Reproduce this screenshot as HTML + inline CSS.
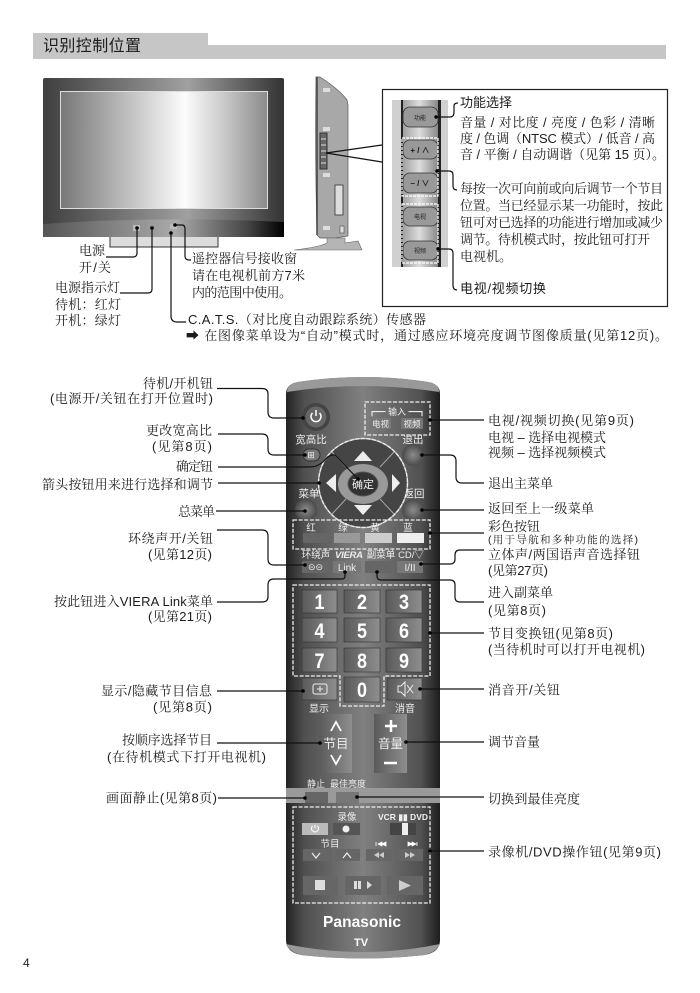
<!DOCTYPE html>
<html><head><meta charset="utf-8"><style>
html,body{margin:0;padding:0;background:#fff}
svg{display:block}
text{font-family:"Liberation Sans","Noto Serif CJK SC",serif;font-size:13px;fill:#1c1c1c}
.s{font-family:"Liberation Sans","Noto Sans CJK SC",sans-serif}
.w{font-family:"Liberation Sans","Noto Sans CJK SC",sans-serif;fill:#eee;font-size:10px;text-anchor:middle}
.d{font-family:"Liberation Sans","Noto Sans CJK SC",sans-serif;fill:#222;font-size:6px;text-anchor:middle}
.n{font-family:"Liberation Sans",sans-serif;fill:#fff;font-size:21px;font-weight:bold}
.l{fill:none;stroke:#111;stroke-width:1.2}
.dash{fill:none;stroke:#eee;stroke-width:1.3;stroke-dasharray:4 1.6}
</style></head><body>
<svg width="700" height="993" viewBox="0 0 700 993" xmlns="http://www.w3.org/2000/svg">
<defs>
<linearGradient id="bz" x1="0" x2="1" y1="0" y2="0"><stop offset="0" stop-color="#3f3f3f"/><stop offset=".6" stop-color="#a0a0a0"/><stop offset="1" stop-color="#333"/></linearGradient>
<linearGradient id="bb" x1="0" x2="1" y1="0" y2="0"><stop offset="0" stop-color="#555"/><stop offset=".55" stop-color="#aaa"/><stop offset=".85" stop-color="#444"/><stop offset="1" stop-color="#000"/></linearGradient>
<linearGradient id="sc" x1="0" x2="1" y1="0" y2="0"><stop offset="0" stop-color="#777"/><stop offset=".6" stop-color="#fcfcfc"/><stop offset=".78" stop-color="#ccc"/><stop offset="1" stop-color="#8a8a8a"/></linearGradient>
<linearGradient id="rm" x1="0" x2="1" y1="0" y2="0"><stop offset="0" stop-color="#222"/><stop offset=".12" stop-color="#505050"/><stop offset=".5" stop-color="#808080"/><stop offset=".88" stop-color="#505050"/><stop offset="1" stop-color="#1c1c1c"/></linearGradient>
<linearGradient id="bt" x1="0" x2="1" y1="0" y2="0"><stop offset="0" stop-color="#5a5a5a"/><stop offset="1" stop-color="#8e8e8e"/></linearGradient>
<linearGradient id="pn" x1="0" x2="1" y1="0" y2="0"><stop offset="0" stop-color="#999"/><stop offset=".5" stop-color="#ddd"/><stop offset="1" stop-color="#888"/></linearGradient>
<radialGradient id="rb"><stop offset="0" stop-color="#8c8c8c"/><stop offset="1" stop-color="#4a4a4a"/></radialGradient>
</defs>

<!-- header -->
<rect x="33" y="33" width="175" height="26" fill="#c6c6c6"/>
<rect x="208" y="45" width="458" height="14" fill="#c6c6c6"/>
<text class="s" x="43" y="51" style="font-size:16px" textLength="98">识别控制位置</text>

<!-- TV front -->
<rect x="110" y="232" width="108" height="15" fill="#ddd" stroke="#333" stroke-width="1"/>
<rect x="43" y="78" width="241" height="159" rx="2" fill="url(#bz)"/>
<path d="M43 224Q160 216 284 222V237H43Z" fill="url(#bb)"/>
<rect x="60.500" y="91.500" width="207" height="117" fill="url(#sc)" stroke="#ddd"/>
<rect x="133" y="225" width="7" height="6" fill="#bbb"/>
<rect x="170" y="224" width="7" height="5" fill="#bbb"/>
<rect x="169" y="231" width="4" height="4" fill="#aaa"/>
<path class="l" d="M137 228V253Q137 257 133 257H106M152 228V289Q152 293 148 293H120M171 233V316Q171 322 177 322H186M175 225H182Q185 225 185 229V256Q185 260 189 260H191"/>
<circle cx="137" cy="228" r="1.800" fill="#000"/><circle cx="152" cy="228" r="1.800" fill="#000"/><circle cx="171" cy="233" r="1.800" fill="#000"/><circle cx="175" cy="225" r="1.800" fill="#000"/>

<text x="79" y="255" textLength="26">电源</text>
<text x="79" y="272" textLength="32">开/关</text>
<text x="55" y="292" textLength="65">电源指示灯</text>
<text x="55" y="309" textLength="66">待机：红灯</text>
<text x="55" y="325" textLength="66">开机：绿灯</text>
<text x="192" y="263" textLength="105">遥控器信号接收窗</text>
<text x="192" y="280" textLength="113">请在电视机前方7米</text>
<text x="192" y="297" textLength="100">内的范围中使用。</text>
<text x="188" y="324" textLength="238">C.A.T.S.（对比度自动跟踪系统）传感器</text>
<text x="186" y="340" textLength="482">➡ 在图像菜单设为“自动”模式时，通过感应环境亮度调节图像质量(见第12页)。</text>

<!-- TV side -->
<path d="M316 77L320 77Q340 90 347 100L348 105V236L335 238H320L317 235Q315 160 316 77Z" fill="#a8a8a8" stroke="#555" stroke-width=".7"/>
<path d="M317 77V235" stroke="#444" stroke-width="1.500"/>
<rect x="320" y="133" width="7" height="36" fill="#666" stroke="#333"/>
<path d="M321 139h5M321 145h5M321 151h5M321 157h5M321 163h5" stroke="#ddd"/>
<rect x="323" y="88" width="7" height="4" fill="#ddd"/><rect x="323" y="127" width="7" height="4" fill="#ddd"/><rect x="323" y="173" width="7" height="4" fill="#ddd"/><rect x="323" y="226" width="7" height="4" fill="#ddd"/>
<rect x="335" y="185" width="8" height="30" fill="#ddd" stroke="#333" stroke-width=".8"/>
<rect x="340" y="226" width="4" height="7" fill="#ddd" stroke="#333" stroke-width=".5"/>
<path d="M327 238H345V243L358 241L362 250H294Q320 247 327 243Z" fill="#b5b5b5" stroke="#666" stroke-width=".6"/>
<path class="l" d="M326 153L382 145M326 153L382 162"/>

<!-- callout box -->
<rect x="382.500" y="89.500" width="285" height="217" fill="#fff" stroke="#222" stroke-width="1.200"/>
<rect x="392" y="100" width="56" height="167" fill="#d0d0d0"/>
<rect x="401" y="100" width="37" height="167" fill="url(#pn)"/>
<rect x="401" y="100" width="2" height="167" fill="#222"/><rect x="438" y="100" width="3" height="167" fill="#222"/>
<g fill="#999" stroke="#333" stroke-width=".8">
<rect x="403" y="107" width="35" height="20" rx="7"/>
<rect x="403" y="140" width="35" height="19" rx="7"/>
<rect x="403" y="173" width="35" height="20" rx="7"/>
<rect x="403" y="207" width="35" height="19" rx="7"/>
<rect x="403" y="241" width="35" height="19" rx="7"/>
</g>
<text class="d" x="420" y="120">功能</text>
<text class="s" x="420" y="153" text-anchor="middle" style="font-size:8px;font-weight:bold">+ / ∧</text>
<text class="s" x="420" y="186" text-anchor="middle" style="font-size:8px;font-weight:bold">– / ∨</text>
<text class="d" x="420" y="219">电视</text>
<text class="d" x="420" y="253">视频</text>
<path d="M402 138H438V196H402ZM402 204H438V263H402Z" fill="none" stroke="#fff" stroke-width="1.200" stroke-dasharray="3 1"/>
<path class="l" d="M436 117H450Q454 117 454 112V106Q454 103 458 103M437 171H449Q453 171 453 175V186Q453 190 457 190M438 249H449Q453 249 453 253V285Q453 290 457 290"/>
<circle cx="436" cy="117" r="1.700" fill="#000"/><circle cx="437" cy="171" r="1.700" fill="#000"/><circle cx="438" cy="249" r="1.700" fill="#000"/>
<text class="s" x="460" y="107" textLength="52" style="font-size:13px">功能选择</text>
<text x="460" y="127" textLength="195">音量 / 对比度 / 亮度 / 色彩 / 清晰</text>
<text x="460" y="143" textLength="195">度 / 色调（NTSC 模式）/ 低音 / 高</text>
<text x="460" y="159" textLength="205">音 / 平衡 / 自动调谐（见第 15 页）。</text>
<text x="460" y="193" textLength="203">每按一次可向前或向后调节一个节目</text>
<text x="460" y="210" textLength="203">位置。当已经显示某一功能时，按此</text>
<text x="460" y="227" textLength="203">钮可对已选择的功能进行增加或减少</text>
<text x="460" y="244" textLength="190">调节。待机模式时，按此钮可打开</text>
<text x="460" y="261">电视机。</text>
<text class="s" x="460" y="293" textLength="86" style="font-size:13px">电视/视频切换</text>

<!-- Remote body -->
<path d="M286 394Q286 384 298 382Q363 372 428 382Q440 384 440 394V940Q440 952 425 955Q363 962 301 955Q286 952 286 940Z" fill="url(#rm)"/>
<path d="M287 392Q287 384 298 382Q363 372 428 382Q439 384 439 392Q363 380 287 392Z" fill="#999"/>
<path d="M286 944Q363 960 440 944Q436 952 425 955Q363 962 301 955Q290 952 286 944Z" fill="#999"/>
<rect x="286" y="788" width="154" height="15" fill="#9a9a9a"/>

<!-- power -->
<circle cx="316" cy="417" r="14" fill="#444"/><circle cx="316" cy="417" r="10.500" fill="#666"/>
<path d="M312.500 413a5 5 0 1 0 7 0M316 410v6" fill="none" stroke="#fff" stroke-width="1.500"/>
<!-- input -->
<rect x="365" y="402" width="65" height="33" class="dash"/>
<text class="w" x="397" y="415" style="font-size:9px">┏━ 输入 ━┓</text>
<rect x="370" y="418" width="21" height="11" rx="1" fill="#777"/><text class="w" x="380.500" y="427" style="font-size:8.500px">电视</text>
<rect x="401" y="418" width="22" height="11" rx="1" fill="#777"/><text class="w" x="412" y="427" style="font-size:8.500px">视频</text>
<!-- upper labels -->
<text class="w" x="311" y="443" style="font-size:10.500px">宽高比</text>
<text class="w" x="413" y="443" style="font-size:10.500px">退出</text>
<text class="w" x="309" y="497" style="font-size:10.500px">菜单</text>
<text class="w" x="414" y="497" style="font-size:10.500px">返回</text>
<rect x="303" y="449" width="17" height="12" rx="6" fill="#777" stroke="#333"/>
<text class="w" x="311" y="458" style="font-size:9px">⊞</text>
<circle cx="413" cy="455" r="11" fill="url(#rb)"/>
<circle cx="306" cy="510" r="11" fill="url(#rb)"/>
<circle cx="413" cy="510" r="11" fill="url(#rb)"/>
<!-- dpad -->
<circle cx="363" cy="483" r="44.500" fill="#454545" stroke="#bbb" stroke-width="1.400"/>
<circle cx="363" cy="483" r="44.500" class="dash" stroke-width=".9"/>
<path d="M332 452L346 467M394 452L380 467M332 514L346 499M394 514L380 499" stroke="#aaa" stroke-width="1"/>
<ellipse cx="363" cy="484" rx="25" ry="20" fill="#999"/>
<ellipse cx="363" cy="484" rx="15" ry="12" fill="#333" stroke="#555"/>
<text class="w" x="363" y="488" style="font-size:11px">确定</text>
<path d="M363 451L372 461H354ZM363 515L372 505H354ZM326 483L336 474V492ZM400 483L392 474V492Z" fill="#eee"/>
<!-- colors -->
<rect x="293" y="520" width="137" height="29" class="dash"/>
<text class="w" x="311" y="531" style="font-size:9.500px">红</text><text class="w" x="343" y="531" style="font-size:9.500px">绿</text><text class="w" x="375" y="531" style="font-size:9.500px">黄</text><text class="w" x="408" y="531" style="font-size:9.500px">蓝</text>
<rect x="303" y="533" width="25" height="10" fill="#666"/><rect x="334" y="533" width="26" height="10" fill="#999"/><rect x="365" y="533" width="27" height="10" fill="#ccc"/><rect x="397" y="533" width="27" height="10" fill="#eee"/>
<!-- row -->
<text class="w" x="316" y="558" style="font-size:9.500px">环绕声</text>
<text class="w" x="349" y="558" style="font-size:9.500px;font-weight:bold;font-style:italic" textLength="28">VIERA</text>
<text class="w" x="381" y="558" style="font-size:9.500px">副菜单</text>
<text class="w" x="411" y="558" style="font-size:9.500px">CD/▽</text>
<rect x="302" y="561" width="27" height="12" rx="1" fill="#666"/><text class="w" x="315.500" y="570" style="font-size:9px">⊝⊝</text>
<rect x="333" y="561" width="28" height="12" rx="1" fill="#777"/><text class="w" x="347" y="571" style="font-size:10px">Link</text>
<rect x="365" y="561" width="27" height="12" rx="1" fill="#666"/>
<rect x="397" y="561" width="26" height="12" rx="1" fill="#777"/><text class="w" x="410" y="571" style="font-size:10px">I/II</text>

<!-- numpad -->
<g fill="url(#bt)" stroke="#333" stroke-width=".6">
<rect x="302" y="590" width="35" height="23"/><rect x="344" y="590" width="36" height="23"/><rect x="386" y="590" width="36" height="23"/>
<rect x="302" y="618" width="35" height="24"/><rect x="344" y="618" width="36" height="24"/><rect x="386" y="618" width="36" height="24"/>
<rect x="302" y="648" width="35" height="24"/><rect x="344" y="648" width="36" height="24"/><rect x="386" y="648" width="36" height="24"/>
<rect x="344" y="677" width="36" height="25"/>
<rect x="302" y="678" width="35" height="22"/><rect x="387" y="678" width="35" height="22"/>
</g>
<text class="n" x="314.500" y="609" textLength="10" lengthAdjust="spacingAndGlyphs">1</text><text class="n" x="357" y="609" textLength="10" lengthAdjust="spacingAndGlyphs">2</text><text class="n" x="399" y="609" textLength="10" lengthAdjust="spacingAndGlyphs">3</text>
<text class="n" x="314.500" y="638" textLength="10" lengthAdjust="spacingAndGlyphs">4</text><text class="n" x="357" y="638" textLength="10" lengthAdjust="spacingAndGlyphs">5</text><text class="n" x="399" y="638" textLength="10" lengthAdjust="spacingAndGlyphs">6</text>
<text class="n" x="314.500" y="668" textLength="10" lengthAdjust="spacingAndGlyphs">7</text><text class="n" x="357" y="668" textLength="10" lengthAdjust="spacingAndGlyphs">8</text><text class="n" x="399" y="668" textLength="10" lengthAdjust="spacingAndGlyphs">9</text>
<text class="n" x="357" y="697" textLength="10" lengthAdjust="spacingAndGlyphs">0</text>
<path class="dash" d="M293 585H430V676H384V706H340V676H293Z"/>
<rect x="313" y="684" width="14" height="10" rx="2" fill="none" stroke="#eee"/><path d="M320 686v6M317 689h6" stroke="#eee"/>
<path d="M398 686h3l4-4v14l-4-4h-3zM407 685l6 8M413 685l-6 8" fill="none" stroke="#eee"/>
<text class="w" x="319" y="712" style="font-size:10px">显示</text><text class="w" x="405" y="712" style="font-size:10px">消音</text>
<!-- rockers -->
<rect x="319" y="714" width="33" height="59" fill="url(#bt)"/><rect x="374" y="714" width="33" height="59" fill="url(#bt)"/>
<path d="M331 731L336 722L341 731M331 755L336 764L341 755" fill="none" stroke="#fff" stroke-width="1.800"/>
<text class="w" x="336" y="748" style="font-size:12.500px">节目</text>
<path d="M385 726H397M391 720V732" stroke="#fff" stroke-width="2.500"/>
<text class="w" x="390.500" y="748" style="font-size:12.500px">音量</text>
<path d="M384 763H397" stroke="#fff" stroke-width="2.500"/>
<!-- still -->
<text class="w" x="316" y="787" style="font-size:9px">静止</text><text class="w" x="348" y="787" style="font-size:9px">最佳亮度</text>
<rect x="305" y="792" width="23" height="11" fill="#666"/><rect x="336" y="792" width="23" height="11" fill="#777"/>
<!-- VCR -->
<rect x="293" y="807" width="137" height="96" class="dash"/>
<text class="w" x="347" y="820" style="font-size:9.500px">录像</text>
<text class="w" x="403" y="820" style="font-size:8.500px;font-weight:bold" textLength="50">VCR ▮▮ DVD</text>
<rect x="302" y="823" width="26" height="12" fill="#bbb"/><path d="M312.500 826a3.500 3.500 0 1 0 5 0M315 825v3" fill="none" stroke="#fff"/>
<rect x="333" y="823" width="27" height="12" fill="#555"/><circle cx="346" cy="829" r="3.500" fill="#eee"/>
<rect x="390" y="823" width="26" height="12" fill="#444"/><rect x="402" y="823" width="6" height="12" fill="#eee"/>
<text class="w" x="330" y="847" style="font-size:9.500px">节目</text>
<path d="M376 842v4M378 844l4-2v4zM382 844l4-2v4zM408 842l4 2-4 2zM412 842l4 2-4 2zM417 842v4" fill="#fff" stroke="#fff" stroke-width=".8"/>
<g fill="#666"><rect x="303" y="849" width="26" height="12"/><rect x="335" y="849" width="25" height="12"/><rect x="366" y="849" width="26" height="12"/><rect x="397" y="849" width="26" height="12"/></g>
<path d="M312 853L316 858L320 853M343 858L347 853L351 858" fill="none" stroke="#eee" stroke-width="1.200"/>
<path d="M379 852v6l-5-3zM384 852v6l-5-3zM405 852v6l5-3zM410 852v6l5-3z" fill="#ccc"/>
<g fill="#666"><rect x="303" y="876" width="35" height="19"/><rect x="345" y="876" width="36" height="19"/><rect x="387" y="876" width="36" height="19"/></g>
<rect x="315" y="880" width="10" height="10" fill="#ddd"/>
<path d="M354 881h3v8h-3zM358 881h3v8h-3zM367 881v8l5-4z" fill="#ddd"/>
<path d="M399 880L411 885.500L399 891Z" fill="#ccc"/>
<text class="w" x="362" y="927" style="font-size:15.500px;font-weight:bold;fill:#fff" textLength="78">Panasonic</text>
<text class="w" x="361" y="946" style="font-size:11px;font-weight:bold;fill:#fff">TV</text>

<!-- connectors -->
<path class="l" d="M217 388.500H262Q268 388.500 268 394V412Q268 418 274 418H303"/>
<path class="l" d="M218 434H262Q268 434 268 440V449Q268 455 274 455H305"/>
<path class="l" d="M218 467H310Q318 467 324 461Q329 454 335 455L358 479"/>
<path class="l" d="M218 483H319"/>
<path class="l" d="M216 511H305"/>
<path class="l" d="M217 530H262Q268 530 268 536V559Q268 565 274 565H305"/>
<path class="l" d="M217 602H262Q268 602 268 597V585Q268 579 274 579H342Q345 579 345 576V572"/>
<path class="l" d="M217 691H303M217 743H320M218 798H305"/>
<path class="l" d="M430 420H484M422 455H450Q456 455 456 461V477Q456 483 462 483H484M422 510H484M430 533H484M421 564H450Q455 564 455 559V555Q455 550 460 550H484"/>
<path class="l" d="M377 572V576Q377 580 381 580H450Q455 580 455 585V597Q455 602 460 602H484"/>
<path class="l" d="M430 633H484M420 689H484M406 742H484M357 797H484M430 851H484"/>
<g fill="#000"><circle cx="303" cy="418" r="1.800"/><circle cx="305" cy="455" r="1.800"/><circle cx="358" cy="479" r="1.800"/><circle cx="319" cy="483" r="1.800"/><circle cx="305" cy="511" r="1.800"/><circle cx="305" cy="565" r="1.800"/><circle cx="345" cy="572" r="1.800"/><circle cx="377" cy="572" r="1.800"/><circle cx="303" cy="691" r="1.800"/><circle cx="320" cy="743" r="1.800"/><circle cx="305" cy="798" r="1.800"/><circle cx="430" cy="420" r="1.800"/><circle cx="422" cy="455" r="1.800"/><circle cx="422" cy="510" r="1.800"/><circle cx="430" cy="533" r="1.800"/><circle cx="421" cy="564" r="1.800"/><circle cx="430" cy="633" r="1.800"/><circle cx="420" cy="689" r="1.800"/><circle cx="406" cy="742" r="1.800"/><circle cx="357" cy="797" r="1.800"/><circle cx="430" cy="851" r="1.800"/></g>

<!-- left labels -->
<text x="143" y="388" textLength="70">待机/开机钮</text>
<text x="50" y="403" textLength="163">(电源开/关钮在打开位置时)</text>
<text x="152" y="451" textLength="60">(见第8页)</text>
<text x="146" y="435" textLength="66">更改宽高比</text>
<text x="176" y="471" textLength="37">确定钮</text>
<text x="42" y="489" textLength="171">箭头按钮用来进行选择和调节</text>
<text x="178" y="516" textLength="37">总菜单</text>
<text x="128" y="543" textLength="85">环绕声开/关钮</text>
<text x="148" y="559" textLength="64">(见第12页)</text>
<text x="54" y="606" textLength="159">按此钮进入VIERA Link菜单</text>
<text x="148" y="621" textLength="64">(见第21页)</text>
<text x="101" y="695.500" textLength="111">显示/隐藏节目信息</text>
<text x="153" y="711.500" textLength="59">(见第8页)</text>
<text x="122" y="744.500" textLength="90">按顺序选择节目</text>
<text x="107" y="761.500" textLength="159">(在待机模式下打开电视机)</text>
<text x="106" y="802.500" textLength="111">画面静止(见第8页)</text>

<!-- right labels -->
<text x="488" y="425" textLength="146">电视/视频切换(见第9页)</text>
<text x="488" y="442" textLength="118">电视 – 选择电视模式</text>
<text x="488" y="457" textLength="118">视频 – 选择视频模式</text>
<text x="488" y="488" textLength="65">退出主菜单</text>
<text x="488" y="513" textLength="106">返回至上一级菜单</text>
<text x="488" y="531" textLength="52">彩色按钮</text>
<text x="488" y="543" textLength="150" style="font-size:10.500px">(用于导航和多种功能的选择)</text>
<text x="488" y="559" textLength="152">立体声/两国语声音选择钮</text>
<text x="488" y="575" textLength="60">(见第27页)</text>
<text x="488" y="597" textLength="65">进入副菜单</text>
<text x="488" y="615" textLength="58">(见第8页)</text>
<text x="488" y="638" textLength="125">节目变换钮(见第8页)</text>
<text x="488" y="654" textLength="157">(当待机时可以打开电视机)</text>
<text x="488" y="694.500" textLength="72">消音开/关钮</text>
<text x="488" y="746.500" textLength="52">调节音量</text>
<text x="488" y="803.500" textLength="92">切换到最佳亮度</text>
<text x="488" y="856.500" textLength="173">录像机/DVD操作钮(见第9页)</text>
<text class="s" x="23" y="967" style="font-size:12px">4</text>
</svg>
</body></html>
